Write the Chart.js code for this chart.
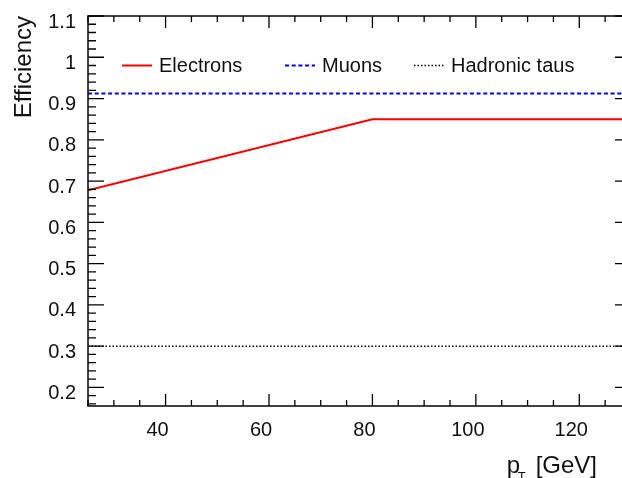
<!DOCTYPE html>
<html>
<head>
<meta charset="utf-8">
<script src="https://cdn.jsdelivr.net/npm/chart.js@4"></script>
<style>
  html, body { margin: 0; padding: 0; background: #fff; }
  #wrap { width: 622px; height: 478px; overflow: hidden; }
</style>
</head>
<body>
<div id="wrap"><canvas id="myChart" width="640" height="478"></canvas></div>
<script>
// values
const ptElectrons = [25, 80, 130];
const effElectrons = [0.678, 0.85, 0.85];
const ptMuons = [25, 130];
const effMuons = [0.912, 0.912];
const ptTaus = [25, 130];
const effTaus = [0.3, 0.3];
const seriesNames = ['Electrons', 'Muons', 'Hadronic taus'];
const xTickLabels = [40, 60, 80, 100, 120];
const yTickLabels = [0.2, 0.3, 0.4, 0.5, 0.6, 0.7, 0.8, 0.9, 1, 1.1];

function toPoints(xs, ys) {
  return xs.map((v, i) => ({x: v, y: ys[i]}));
}

Chart.defaults.font.family = "'Liberation Sans', Arial, sans-serif";
Chart.defaults.color = '#111';

// ROOT style frame with ticks on all four sides
const frame = {
  id: 'frame',
  afterDraw(chart) {
    const {ctx, chartArea: a, scales: {x, y}} = chart;
    ctx.save();
    ctx.strokeStyle = '#000';
    ctx.lineWidth = 1.5;
    ctx.strokeRect(a.left, a.top, a.right - a.left, a.bottom - a.top);
    ctx.lineWidth = 1.3;
    ctx.beginPath();
    for (let v = 25; v <= 130; v += 5) {
      const px = x.getPixelForValue(v);
      const len = v % 20 === 0 ? 12 : 6;
      ctx.moveTo(px, a.bottom); ctx.lineTo(px, a.bottom - len);
      ctx.moveTo(px, a.top); ctx.lineTo(px, a.top + len);
    }
    for (let i = 8; i <= 55; i++) {
      const py = y.getPixelForValue(i * 0.02);
      const len = i % 5 === 0 ? 16 : 8;
      ctx.moveTo(a.left, py); ctx.lineTo(a.left + len, py);
      ctx.moveTo(a.right, py); ctx.lineTo(a.right - len, py);
    }
    ctx.stroke();

    // x title: p_T [GeV]
    const xEnd = a.right - 34;
    const base = 473;
    ctx.fillStyle = '#111';
    ctx.textBaseline = 'alphabetic';
    ctx.textAlign = 'left';
    ctx.font = "24px 'Liberation Sans', Arial, sans-serif";
    const wUnit = ctx.measureText('[GeV]').width;
    const xUnit = xEnd - wUnit;
    ctx.fillText('[GeV]', xUnit, base);
    ctx.fillText('p', xUnit - 29, base);
    ctx.font = "13px 'Liberation Sans', Arial, sans-serif";
    ctx.fillText('T', xUnit - 18, base + 8);
    ctx.restore();
  }
};

// legend inside the frame, one row
const rowLegend = {
  id: 'rowLegend',
  afterDraw(chart) {
    const ctx = chart.ctx;
    const starts = [122, 285, 414];
    const yRow = 65.5;
    ctx.save();
    ctx.font = "20px 'Liberation Sans', Arial, sans-serif";
    ctx.textBaseline = 'middle';
    ctx.textAlign = 'left';
    chart.data.datasets.forEach((ds, i) => {
      ctx.strokeStyle = ds.borderColor;
      ctx.lineWidth = ds.borderWidth;
      ctx.setLineDash(ds.borderDash || []);
      ctx.beginPath();
      ctx.moveTo(starts[i], yRow);
      ctx.lineTo(starts[i] + 30, yRow);
      ctx.stroke();
      ctx.setLineDash([]);
      ctx.fillStyle = '#111';
      ctx.fillText(ds.label, starts[i] + 37, yRow + 1);
    });
    ctx.restore();
  }
};

const ctx = document.getElementById('myChart').getContext('2d');
new Chart(ctx, {
  type: 'line',
  data: {
    datasets: [{
      label: seriesNames[0],
      data: toPoints(ptElectrons, effElectrons),
      borderColor: '#ff0000',
      borderWidth: 2
    }, {
      label: seriesNames[1],
      data: toPoints(ptMuons, effMuons),
      borderColor: '#0000ff',
      borderWidth: 2,
      borderDash: [4, 2.7]
    }, {
      label: seriesNames[2],
      data: toPoints(ptTaus, effTaus),
      borderColor: '#000000',
      borderWidth: 1.5,
      borderDash: [1.5, 2]
    }]
  },
  options: {
    responsive: false,
    animation: false,
    layout: { padding: { left: 0, top: 15, right: 9, bottom: 0 } },
    elements: { point: { radius: 0 }, line: { tension: 0 } },
    plugins: { legend: { display: false }, tooltip: { enabled: false } },
    scales: {
      x: {
        type: 'linear',
        min: 25,
        max: 130,
        grid: { display: false },
        border: { display: false },
        afterBuildTicks: s => { s.ticks = xTickLabels.map(v => ({value: v})); },
        afterFit: s => { s.height = 72; },
        ticks: { font: { size: 20 }, padding: 4, labelOffset: -8, maxRotation: 0,
                 callback: v => String(v) }
      },
      y: {
        type: 'linear',
        min: 0.155,
        max: 1.1,
        grid: { display: false },
        border: { display: false },
        afterBuildTicks: s => { s.ticks = yTickLabels.map(v => ({value: v})); },
        afterFit: s => { s.width = 88; },
        ticks: { font: { size: 20 }, padding: 4, labelOffset: 6,
                 callback: v => String(Math.round(v * 10) / 10) },
        title: {
          display: true,
          text: 'Efficiency',
          align: 'end',
          color: '#111',
          font: { size: 24 },
          padding: { top: 10, bottom: 0 }
        }
      }
    }
  },
  plugins: [frame, rowLegend]
});
</script>
</body>
</html>
